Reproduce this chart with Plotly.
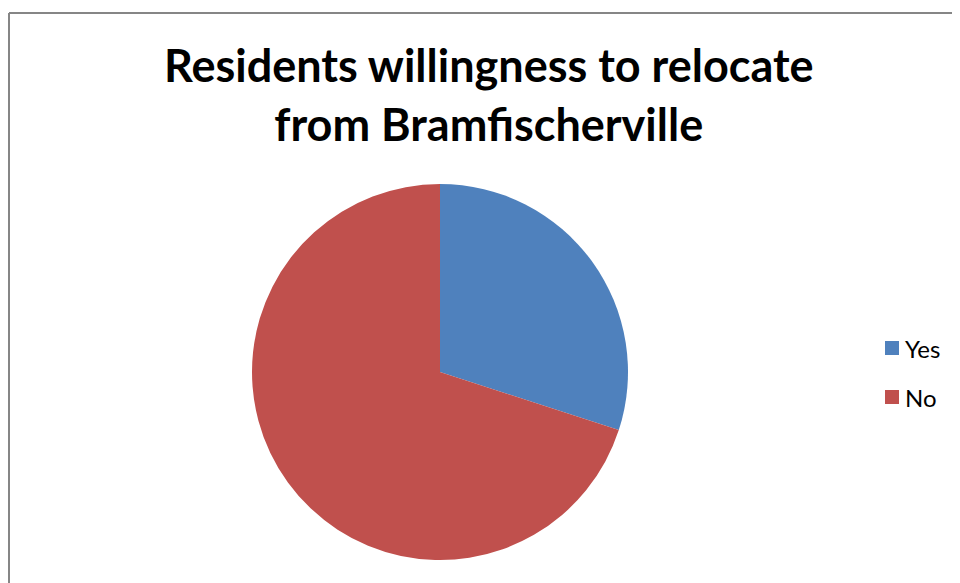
import plotly.graph_objects as go

labels = ["Yes", "No"]
values = [30, 70]
colors = ["#4F81BD", "#C0504D"]
title_text = "Residents willingness to relocate<br>from Bramfischerville"

OX, OY = 8, 8  # page body margin offset
W, H = 960 - OX, 583 - OY


def px_x(x):
    return (x - OX) / W


def px_y(y):
    return 1 - (y - OY) / H


cx, cy, r = 440, 372, 188

fig = go.Figure()
fig.add_trace(go.Pie(
    labels=labels, values=values, sort=False, direction="clockwise", rotation=0,
    marker=dict(colors=colors, line=dict(width=0)),
    textinfo="none", hoverinfo="label+value+percent", showlegend=False,
    domain=dict(x=[px_x(cx - r), px_x(cx + r)], y=[px_y(cy + r), px_y(cy - r)]),
))

border = dict(color="#868686", width=2)
shapes = [
    dict(type="line", xref="paper", yref="paper", x0=px_x(9), x1=1.0, y0=px_y(13), y1=px_y(13), line=border),
    dict(type="line", xref="paper", yref="paper", x0=px_x(9), x1=px_x(9), y0=0.0, y1=px_y(13), line=border),
]
annotations = [dict(text="<b>" + title_text + "</b>", x=px_x(489), y=px_y(95), xref="paper", yref="paper",
                    showarrow=False, font=dict(family="Lato, Carlito, sans-serif", size=45, color="#000000"),
                    xanchor="center", yanchor="middle", align="center")]
leg_y = [348, 397]
for lab, col, ly in zip(labels, colors, leg_y):
    shapes.append(dict(type="rect", xref="paper", yref="paper", x0=px_x(885), x1=px_x(899),
                       y0=px_y(ly + 7), y1=px_y(ly - 7), fillcolor=col, line=dict(width=0)))
    annotations.append(dict(text=lab, x=px_x(903), y=px_y(ly), xref="paper", yref="paper", showarrow=False,
                            xanchor="left", yanchor="middle", font=dict(family="Lato, Carlito, sans-serif", size=24, color="#000000")))

fig.update_layout(width=W, height=H, margin=dict(l=0, r=0, t=0, b=0), paper_bgcolor="white",
                  plot_bgcolor="white", shapes=shapes, annotations=annotations, showlegend=False)
fig.write_html("out.html", config={"displayModeBar": False},
               post_script="document.body.style.overflow='hidden';")
